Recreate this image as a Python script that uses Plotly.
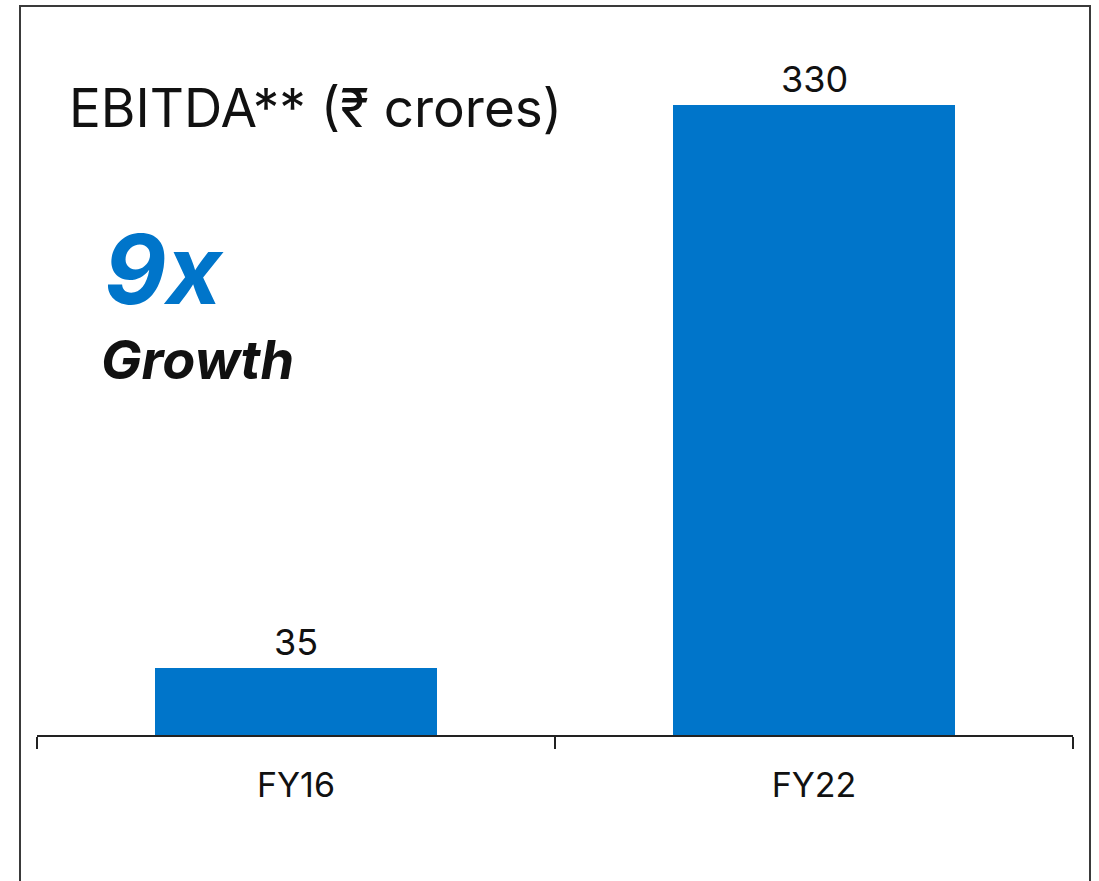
import plotly.graph_objects as go

categories = ["FY16", "FY22"]
ebitda = [35, 330]
value_labels = ["35", "330"]
title_text = "EBITDA** (₹ crores)"
growth_big = "9x"
growth_word = "Growth"

BLUE = "#0075CA"
FONT = "Inter, Roboto, Arial, sans-serif"

W, H = 1099, 881
ML, MR, MT, MB = 37, 26, 48, 146
pw = W - ML - MR
ph = H - MT - MB

def px_x(p):
    return (p - ML) / pw

def px_y(p):
    return (H - MB - p) / ph

fig = go.Figure()
fig.add_trace(go.Bar(
    x=categories, y=ebitda, marker=dict(color=BLUE, line=dict(width=0)),
    width=0.543, hoverinfo="skip",
))

for c, v, t in zip(categories, ebitda, value_labels):
    fig.add_annotation(x=c, y=v, text=t, showarrow=False, yanchor="bottom",
                       yshift=2, font=dict(size=36, color="#111", family=FONT))

fig.add_annotation(xref="paper", yref="paper", x=px_x(67), y=px_y(108), text=title_text,
                   showarrow=False, xanchor="left", yanchor="middle",
                   font=dict(size=53, color="#111", family=FONT))
fig.add_annotation(xref="paper", yref="paper", x=px_x(102), y=px_y(269),
                   text="<b><i>" + growth_big + "</i></b>",
                   showarrow=False, xanchor="left", yanchor="middle",
                   font=dict(size=96, color=BLUE, family=FONT))
fig.add_annotation(xref="paper", yref="paper", x=px_x(99), y=px_y(360),
                   text="<b><i>" + growth_word + "</i></b>",
                   showarrow=False, xanchor="left", yanchor="middle",
                   font=dict(size=54, color="#111", family=FONT))

fig.add_shape(type="rect", xref="paper", yref="paper",
              x0=px_x(20), x1=px_x(1090), y0=px_y(900), y1=px_y(6),
              line=dict(color="#3a3a3a", width=2), fillcolor="rgba(0,0,0,0)", layer="above")

fig.update_layout(
    width=W, height=H, margin=dict(l=ML, r=MR, t=MT, b=MB),
    paper_bgcolor="white", plot_bgcolor="white", showlegend=False,
    bargap=0,
    xaxis=dict(type="category", showline=True, linecolor="#222", linewidth=2,
               ticks="outside", tickson="boundaries", ticklen=12, tickwidth=2, tickcolor="#222",
               tickfont=dict(size=34, color="#111", family=FONT), showgrid=False,
               ticklabelstandoff=19),
    yaxis=dict(range=[0, 360], visible=False, showgrid=False, zeroline=False),
)

fig.write_html("out.html", config={"displayModeBar": False},
               post_script="document.body.style.margin='0';")
